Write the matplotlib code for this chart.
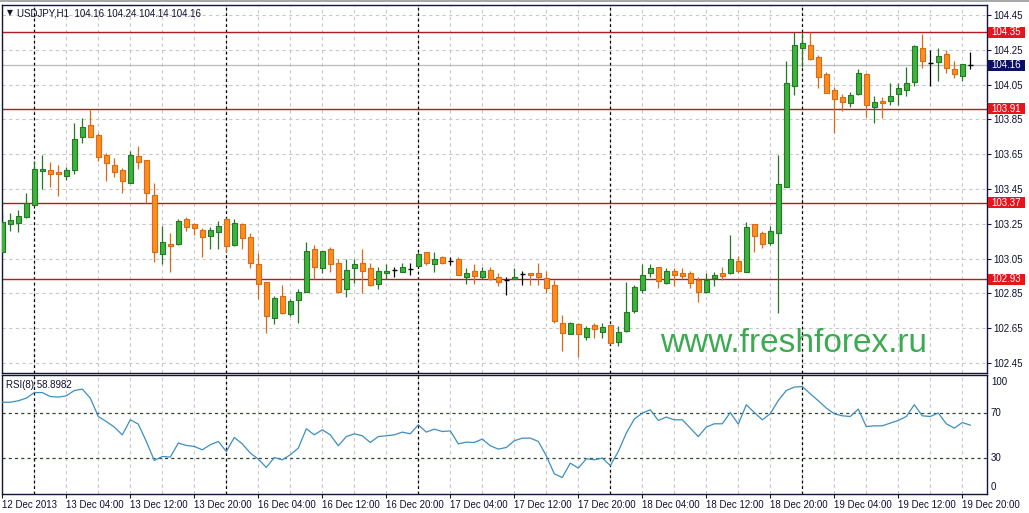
import matplotlib
matplotlib.use("Agg")
import matplotlib.pyplot as plt
from matplotlib import font_manager as fm
from matplotlib.patches import Rectangle
import matplotlib.transforms as mtransforms
import numpy as np

# ---------------- data ----------------
opens = [103.088, 103.250, 103.253, 103.287, 103.356, 103.556, 103.557, 103.547, 103.523, 103.561,
         103.747, 103.818, 103.760, 103.643, 103.586, 103.559, 103.483, 103.640, 103.615, 103.414,
         103.075, 103.132, 103.132, 103.277, 103.247, 103.214, 103.181, 103.204, 103.277, 103.128,
         103.249, 103.174, 103.019, 102.914, 102.710, 102.833, 102.731, 102.814, 102.860, 103.103,
         102.994, 103.103, 103.026, 102.873, 102.994, 103.026, 102.994, 102.902, 102.965, 102.984,
         102.975, 102.988, 103.007, 103.086, 103.017, 103.057, 103.036, 103.046, 102.942, 102.979,
         102.942, 102.984, 102.942, 102.927, 102.933, 102.960, 102.969, 102.969, 102.937, 102.898,
         102.682, 102.615, 102.672, 102.601, 102.666, 102.630, 102.666, 102.572, 102.632, 102.751,
         102.869, 102.965, 103.003, 102.911, 102.980, 102.969, 102.965, 102.927, 102.860, 102.937,
         102.969, 102.965, 103.036, 102.975, 103.247, 103.195, 103.141, 103.195, 103.463, 104.043,
         104.262, 104.277, 104.207, 104.109, 104.017, 103.979, 103.946, 103.994, 104.109, 103.923,
         103.954, 103.956, 103.994, 104.017, 104.067, 104.262, 104.176, 104.181, 104.224, 104.139,
         104.099, 104.160]
highs = [103.312, 103.310, 103.329, 103.425, 103.611, 103.645, 103.605, 103.586, 103.578, 103.827,
         103.856, 103.910, 103.770, 103.655, 103.626, 103.572, 103.670, 103.697, 103.617, 103.483,
         103.237, 103.195, 103.277, 103.291, 103.256, 103.224, 103.230, 103.266, 103.283, 103.277,
         103.256, 103.197, 103.080, 102.915, 102.835, 102.896, 102.818, 102.873, 103.145, 103.128,
         103.094, 103.118, 103.046, 103.046, 103.046, 103.103, 103.023, 103.003, 103.019, 103.003,
         103.023, 103.023, 103.086, 103.090, 103.090, 103.065, 103.057, 103.057, 102.994, 103.019,
         103.003, 103.003, 102.965, 102.942, 102.994, 102.979, 102.970, 103.026, 102.980, 102.927,
         102.726, 102.683, 102.682, 102.663, 102.678, 102.682, 102.668, 102.663, 102.917, 102.898,
         103.019, 103.017, 103.004, 102.998, 102.998, 102.998, 102.979, 102.942, 102.965, 102.975,
         103.003, 103.185, 103.065, 103.262, 103.249, 103.208, 103.237, 103.645, 104.185, 104.350,
         104.350, 104.350, 104.220, 104.124, 104.036, 103.994, 104.009, 104.140, 104.114, 103.986,
         103.979, 104.057, 104.057, 104.153, 104.275, 104.339, 104.249, 104.258, 104.249, 104.185,
         104.168, 104.240]
lows = [103.082, 103.210, 103.203, 103.286, 103.352, 103.448, 103.463, 103.411, 103.502, 103.536,
        103.716, 103.746, 103.611, 103.496, 103.517, 103.425, 103.482, 103.563, 103.370, 103.032,
        103.019, 102.975, 103.131, 103.208, 103.185, 103.061, 103.103, 103.103, 103.089, 103.122,
        103.103, 102.996, 102.818, 102.624, 102.674, 102.730, 102.720, 102.682, 102.858, 102.933,
        102.965, 102.975, 102.854, 102.831, 102.911, 102.854, 102.895, 102.873, 102.931, 102.942,
        102.975, 102.956, 103.004, 103.013, 102.975, 103.017, 103.013, 102.953, 102.902, 102.902,
        102.931, 102.927, 102.894, 102.841, 102.933, 102.898, 102.898, 102.898, 102.854, 102.682,
        102.521, 102.614, 102.483, 102.582, 102.592, 102.592, 102.562, 102.548, 102.631, 102.739,
        102.854, 102.942, 102.883, 102.902, 102.894, 102.931, 102.883, 102.802, 102.854, 102.894,
        102.927, 102.964, 102.965, 102.973, 103.089, 103.113, 103.128, 102.736, 103.461, 103.990,
        104.153, 104.194, 104.032, 104.002, 103.773, 103.898, 103.923, 103.993, 103.865, 103.831,
        103.856, 103.933, 103.933, 103.986, 104.043, 104.147, 104.043, 104.072, 104.115, 104.086,
        104.072, 104.140]
closes = [103.260, 103.270, 103.295, 103.368, 103.565, 103.565, 103.534, 103.536, 103.559, 103.736,
          103.804, 103.747, 103.635, 103.598, 103.546, 103.494, 103.645, 103.603, 103.425, 103.086,
          103.144, 103.124, 103.266, 103.233, 103.224, 103.172, 103.214, 103.237, 103.124, 103.253,
          103.166, 103.023, 102.902, 102.722, 102.822, 102.739, 102.806, 102.856, 103.092, 103.003,
          103.092, 103.017, 102.860, 102.984, 103.019, 102.980, 102.896, 102.979, 102.979, 102.984,
          103.003, 102.988, 103.074, 103.023, 103.046, 103.023, 103.036, 102.956, 102.969, 102.952,
          102.979, 102.934, 102.914, 102.927, 102.944, 102.960, 102.956, 102.942, 102.883, 102.693,
          102.624, 102.682, 102.615, 102.653, 102.643, 102.655, 102.563, 102.626, 102.741, 102.885,
          102.954, 102.994, 102.921, 102.979, 102.954, 102.950, 102.911, 102.856, 102.927, 102.956,
          102.952, 103.046, 102.980, 103.233, 103.181, 103.132, 103.208, 103.477, 104.057, 104.277,
          104.287, 104.195, 104.095, 104.003, 103.965, 103.952, 103.990, 104.115, 103.933, 103.948,
          103.946, 103.986, 104.029, 104.057, 104.273, 104.185, 104.176, 104.216, 104.147, 104.109,
          104.166, 104.160]
rsi = [79, 79, 80.3, 82.6, 87.5, 87.5, 84, 83.5, 84.6, 89.3,
       90.5, 82.6, 66.5, 62.1, 57.2, 50.4, 63.6, 59.8, 44.6, 27.9,
       31.4, 30.9, 43.2, 41.1, 40.2, 37.3, 41.7, 44.6, 35.8, 48.1,
       42.5, 34.4, 29.1, 21.8, 30.5, 28.5, 32.9, 38.8, 55.7, 50.4,
       54.8, 50.4, 40.8, 48.9, 51.3, 49.6, 43.7, 48.9, 49.6, 50.4,
       52.8, 51.3, 59.2, 52.8, 55.4, 53.3, 53.9, 42.5, 44.0, 43.7,
       46.7, 40.8, 37.9, 39.3, 45.2, 47.5, 47.5, 44.6, 32.0, 16.2,
       13.0, 25.6, 21.2, 29.4, 28.5, 30.0, 23.5, 35.8, 51.9, 64.2,
       69.5, 72.4, 63.0, 66.0, 63.6, 63.6, 56.3, 48.9, 57.2, 60.1,
       60.1, 70.0, 59.8, 76.8, 70.0, 63.6, 68.9, 80.5, 89.3, 92.3,
       92.8, 86.4, 80.3, 73.9, 68.9, 67.1, 66.5, 73.0, 57.7, 58.3,
       58.3, 60.7, 63.0, 66.5, 76.8, 67.1, 66.5, 69.5, 60.1, 56.3,
       61.2, 58.9]

time_labels = ["12 Dec 2013", "13 Dec 04:00", "13 Dec 12:00", "13 Dec 20:00",
               "16 Dec 04:00", "16 Dec 12:00", "16 Dec 20:00", "17 Dec 04:00",
               "17 Dec 12:00", "17 Dec 20:00", "18 Dec 04:00", "18 Dec 12:00",
               "18 Dec 20:00", "19 Dec 04:00", "19 Dec 12:00", "19 Dec 20:00"]
price_ticks = [104.45, 104.25, 104.05, 103.85, 103.65, 103.45, 103.25, 103.05, 102.85, 102.65, 102.45]
levels = [104.35, 103.91, 103.37, 102.93]
last_price = 104.16
rsi_levels = [70, 30]
rsi_ticks = ["100", "70", "30", "0"]
title = "USDJPY,H1  104.16 104.24 104.14 104.16"
rsi_title = "RSI(8) 58.8982"
watermark = "www.freshforex.ru"

# ---------------- fonts ----------------
def has_font(name):
    try:
        fm.findfont(fm.FontProperties(family=name), fallback_to_default=False)
        return True
    except Exception:
        return False

if has_font("Liberation Sans Narrow"):
    UIF, UIS, WMF, WMS = "Liberation Sans Narrow", 8.2, "Liberation Sans Narrow", 29
else:
    UIF, UIS, WMF, WMS = "Liberation Sans", 7.0, "Liberation Sans", 24
plt.rcParams["font.family"] = [UIF, "DejaVu Sans"]

# ---------------- figure ----------------
W, H = 1029, 513
fig = plt.figure(figsize=(W / 100, H / 100), dpi=100)
fig.patch.set_facecolor("white")

def fx(px):
    return px / W

def fy(py):
    return 1 - py / H

L_PX, R_PX = 2, 987
ax = fig.add_axes([fx(L_PX), fy(373), fx(R_PX - L_PX), (373 - 5) / H])
ax2 = fig.add_axes([fx(L_PX), fy(494), fx(R_PX - L_PX), (494 - 375) / H])

n = len(opens)
x = np.arange(n)
XL = (-0.04, 123.09)
FRAME = "#14143c"
GRID = "#c8c8c8"
TXT = "#101030"

for a in (ax, ax2):
    a.set_xlim(*XL)
    a.set_facecolor("white")
    for s in a.spines.values():
        s.set_color(FRAME)
        s.set_linewidth(1.0)
    for gx in range(0, n + 2, 4):
        a.axvline(gx, color=GRID, lw=0.8, ls=(0, (3, 3)), zorder=0)
    for sx in (4, 28, 52, 76, 100):
        a.axvline(sx, color="black", lw=0.9, ls=(0, (2.2, 2.2)), zorder=1)

# ---------------- main price panel ----------------
ax.set_ylim(102.3925, 104.5075)
for p in price_ticks:
    ax.axhline(p, color=GRID, lw=0.8, ls=(0, (3, 3)), zorder=0)
ax.axhline(last_price, color="#c0c0c0", lw=1.0, zorder=0.5)
for lv in levels:
    ax.axhline(lv, color="#b41a22", lw=1.0, zorder=1.5)

BULL_F, BULL_E = "#3cb43c", "#237a23"
BEAR_F, BEAR_E = "#ff8c1e", "#d96a16"
bw = 0.56
for i in range(n):
    o, h, l, c = opens[i], highs[i], lows[i], closes[i]
    if c > o:
        ax.vlines(i, l, h, color=BULL_E, lw=0.9, zorder=2)
        ax.bar(i, c - o, bottom=o, width=bw, color=BULL_F, edgecolor=BULL_E, linewidth=0.8, zorder=3)
    elif c < o:
        ax.vlines(i, l, h, color=BEAR_E, lw=0.9, zorder=2)
        ax.bar(i, c - o, bottom=o, width=bw, color=BEAR_F, edgecolor=BEAR_E, linewidth=0.8, zorder=3)
    else:
        ax.vlines(i, l, h, color="black", lw=0.9, zorder=2)
        ax.hlines(o, i - 0.32, i + 0.32, color="black", lw=1.0, zorder=3)

ax.yaxis.tick_right()
ax.set_yticks(price_ticks)
ax.set_yticklabels([f"{p:.2f}" for p in price_ticks])
ax.tick_params(axis="y", length=3, width=0.8, color=FRAME, pad=1.5, labelsize=UIS, labelcolor=TXT)
ax.set_xticks([])

tr = mtransforms.blended_transform_factory(ax.transAxes, ax.transData)
box_x0 = (988 - L_PX) / (R_PX - L_PX)
box_w = 37 / (R_PX - L_PX)
half_h = 5.5 / 174.0
for lv, col in [(v, "#e8141c") for v in levels] + [(last_price, "#0c1060")]:
    ax.add_patch(Rectangle((box_x0, lv - half_h), box_w, 2 * half_h, transform=tr,
                           facecolor=col, edgecolor="none", clip_on=False, zorder=10))
    ax.text(box_x0 + 3 / (R_PX - L_PX), lv, f"{lv:.2f}", transform=tr, ha="left", va="center",
            color="white", fontsize=UIS, clip_on=False, zorder=11)

ax.text(fx(7), fy(13), "▼", transform=fig.transFigure, fontsize=5.5, color=TXT,
        ha="left", va="center", family="DejaVu Sans")
ax.text(fx(17), fy(13), title, transform=fig.transFigure, fontsize=UIS, color=TXT,
        ha="left", va="center")

fig.text(fx(660), fy(351.5), watermark, fontsize=WMS, color="#3caa50", ha="left",
         va="baseline", family=[WMF, "DejaVu Sans"])

# ---------------- RSI panel ----------------
ax2.set_ylim(-1.5, 102.9)
for lv in rsi_levels:
    ax2.axhline(lv, color="#2e4a2e", lw=0.9, ls=(0, (2.5, 2.5)), zorder=1)
ax2.plot(x, rsi, color="#3d8fc0", lw=0.9, zorder=3)
ax2.set_yticks([])
tr2 = mtransforms.blended_transform_factory(ax2.transAxes, ax2.transData)
for lab, yv in zip(rsi_ticks, [96.8, 70, 30, 4.4]):
    ax2.text(1.004, yv, lab, transform=tr2, ha="left", va="center", fontsize=UIS,
             color=TXT, clip_on=False)
ax2.text(fx(6), fy(385), rsi_title, transform=fig.transFigure, fontsize=UIS, color=TXT,
         ha="left", va="center")

ax2.set_xticks(np.arange(0, 121, 8))
ax2.set_xticklabels(time_labels, ha="left")
ax2.tick_params(axis="x", length=3, width=0.8, color=FRAME, pad=1.5, labelsize=UIS, labelcolor=TXT)

fig.add_artist(Rectangle((0, fy(2)), 1, 2 / H, transform=fig.transFigure, facecolor="#a8a8a8",
                         edgecolor="none"))

fig.savefig("out.png", dpi=100)
